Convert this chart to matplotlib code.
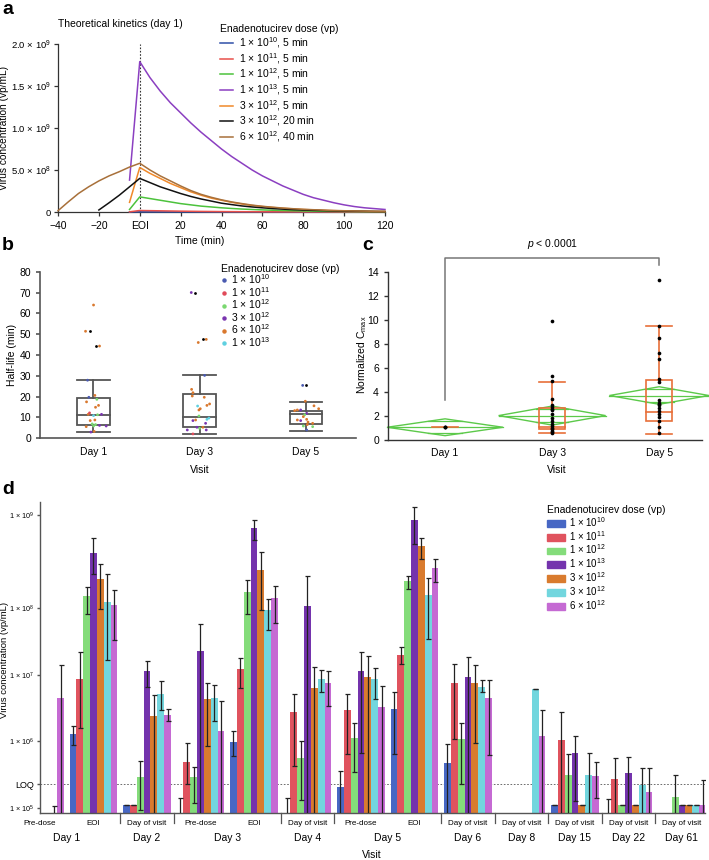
import numpy as np
import matplotlib
matplotlib.use('Agg')
import matplotlib.pyplot as plt
from matplotlib.lines import Line2D
from matplotlib.patches import Patch, Polygon, Rectangle
from matplotlib.ticker import NullLocator
import matplotlib.transforms as mtrans

plt.rcParams['font.family'] = ['Liberation Sans', 'DejaVu Sans']
plt.rcParams['mathtext.fontset'] = 'custom'
plt.rcParams['mathtext.rm'] = 'Liberation Sans'
plt.rcParams['mathtext.it'] = 'Liberation Sans:italic'
plt.rcParams['mathtext.bf'] = 'Liberation Sans:bold'
plt.rcParams['mathtext.default'] = 'regular'

# ---------------- Panel a data (theoretical kinetics, x1e9 vp/mL) ----------------
t_5min = [-5, 0, 5, 10, 15, 20, 25, 30, 35, 40, 45, 50, 55, 60, 65, 70, 75, 80, 85, 90, 95, 100, 105, 110, 115, 120]
t_20min = [-20, -15, -10, -5, 0, 5, 10, 15, 20, 25, 30, 35, 40, 45, 50, 55, 60, 65, 70, 75, 80, 85, 90, 95, 100, 105, 110, 115, 120]
t_40min = [-40, -35, -30, -25, -20, -15, -10, -5, 0, 5, 10, 15, 20, 25, 30, 35, 40, 45, 50, 55, 60, 65, 70, 75, 80, 85, 90, 95, 100, 105, 110, 115, 120]
a_labels = ['1 × 10$^{10}$, 5 min', '1 × 10$^{11}$, 5 min', '1 × 10$^{12}$, 5 min',
            '1 × 10$^{13}$, 5 min', '3 × 10$^{12}$, 5 min', '3 × 10$^{12}$, 20 min',
            '6 × 10$^{12}$, 40 min']
a_blue = [0.0002, 0.0018, 0.0016, 0.0014, 0.0012, 0.001, 0.00085, 0.0007, 0.0006, 0.0005, 0.00042, 0.00035, 0.0003,
          0.00025, 0.00021, 0.00018, 0.00015, 0.00012, 0.0001, 0.00008, 0.00007, 0.00006, 0.00005, 0.00004, 0.00003, 0.00003]
a_red = [0.002, 0.018, 0.016, 0.014, 0.012, 0.010, 0.0085, 0.007, 0.006, 0.005, 0.0042, 0.0035, 0.003, 0.0025,
         0.0021, 0.0018, 0.0015, 0.0012, 0.001, 0.0008, 0.0007, 0.0006, 0.0005, 0.0004, 0.00035, 0.0003]
a_green = [0.03, 0.18, 0.16, 0.14, 0.12, 0.10, 0.085, 0.07, 0.06, 0.05, 0.042, 0.035, 0.03, 0.025, 0.021, 0.018,
           0.015, 0.012, 0.010, 0.008, 0.007, 0.006, 0.005, 0.004, 0.0035, 0.003]
a_purple = [0.38, 1.79, 1.60, 1.44, 1.30, 1.18, 1.06, 0.95, 0.85, 0.75, 0.66, 0.58, 0.50, 0.43, 0.37, 0.31, 0.26,
            0.21, 0.17, 0.14, 0.11, 0.085, 0.065, 0.05, 0.04, 0.03]
a_orange = [0.115, 0.53, 0.46, 0.40, 0.34, 0.29, 0.24, 0.20, 0.165, 0.14, 0.115, 0.095, 0.078, 0.065, 0.054, 0.045,
            0.037, 0.03, 0.025, 0.02, 0.016, 0.013, 0.011, 0.009, 0.007, 0.006]
a_black = [0.024, 0.11, 0.20, 0.30, 0.40, 0.35, 0.30, 0.26, 0.22, 0.185, 0.155, 0.13, 0.105, 0.088, 0.072, 0.06,
           0.05, 0.041, 0.034, 0.028, 0.023, 0.019, 0.016, 0.013, 0.011, 0.009, 0.008, 0.006, 0.005]
a_brown = [0.015, 0.12, 0.22, 0.30, 0.37, 0.43, 0.48, 0.535, 0.58, 0.50, 0.43, 0.37, 0.31, 0.255, 0.21, 0.175,
           0.145, 0.12, 0.10, 0.082, 0.068, 0.057, 0.047, 0.039, 0.032, 0.027, 0.022, 0.018, 0.015, 0.012, 0.01,
           0.008, 0.007]

# ---------------- Panel b data (half-life, min) ----------------
b_dose_labels = ['1 × 10$^{10}$', '1 × 10$^{11}$', '1 × 10$^{12}$', '3 × 10$^{12}$', '6 × 10$^{12}$', '1 × 10$^{13}$']
b_visits = ['Day 1', 'Day 3', 'Day 5']
b_whislo = [2.9, 1.9, 3.7]
b_q1 = [6.4, 5.4, 6.9]
b_med = [11.0, 10.1, 11.5]
b_q3 = [19.2, 21.1, 13.1]
b_whishi = [28.0, 30.4, 17.3]
b_day1_val = [64, 51.4, 44.3, 27.9, 19.7, 20.6, 18.7, 14.9, 15.8, 11.5, 10.9, 11.3, 11.5, 8.5, 8.8, 5.6, 6.9, 5.9, 6.6, 6.2, 5.9, 3.0, 3.3, 12.2, 17.5]
b_day1_dose = [4, 4, 4, 0, 0, 4, 2, 4, 4, 4, 5, 2, 3, 4, 4, 4, 2, 2, 2, 3, 3, 3, 4, 1, 4]
b_day1_jit = [1, -23, 19, -17, -13, 5, 11, 7, 16, -15, 1, 13, 25, -9, 5, -21, -3, 1, 7, 19, 39, -7, 3, -11, -20]
b_day3_val = [70, 46.0, 47.5, 30.2, 23.5, 21.9, 20.3, 19.7, 15.5, 15.8, 14.2, 13.6, 10.7, 9.7, 9.1, 8.5, 8.8, 7.2, 4.8, 5.3, 5.3, 4.0, 2.1, 4.0, 16.5]
b_day3_dose = [3, 4, 4, 0, 4, 4, 4, 4, 5, 4, 4, 4, 2, 5, 5, 3, 4, 3, 2, 3, 4, 3, 1, 3, 4]
b_day3_jit = [-25, -4, 20, 15, -24, -20, -22, 14, -6, 22, 2, -2, -2, 28, 22, -20, -12, 18, 0, -8, 10, -37, -20, 20, 30]
b_day5_val = [25.4, 17.8, 15.6, 14.2, 13.6, 13.6, 13.3, 12.0, 11.3, 8.8, 10.4, 9.1, 8.5, 7.8, 7.2, 5.9, 6.6, 5.6, 4.0]
b_day5_dose = [0, 4, 4, 4, 4, 3, 4, 3, 2, 4, 4, 4, 3, 4, 4, 2, 4, 2, 0]
b_day5_jit = [-10, -2, 24, 38, -26, -16, -34, 2, -4, -26, -8, 2, -16, 6, 20, -8, 4, 20, 2]
b_black_day = [1, 1, 2, 2, 3]
b_black_val = [51.4, 44.3, 70, 47.5, 25.4]
b_black_jit = [-9, 9, -15, 10, 0]

# ---------------- Panel c data (normalized Cmax) ----------------
c_visits = ['Day 1', 'Day 3', 'Day 5']
c_day1 = [1.05, 1.05, 1.05]
c_day3 = [9.9, 5.3, 4.9, 3.45, 2.9, 2.75, 2.6, 2.5, 2.2, 1.8, 1.55, 1.35, 1.15, 1.0, 0.9, 0.75, 0.65, 0.55]
c_day5 = [13.3, 9.45, 8.5, 7.2, 6.7, 5.05, 4.85, 3.3, 3.1, 3.0, 2.9, 2.65, 2.4, 2.2, 1.95, 1.6, 1.1, 0.55]
c_whislo = [1.05, 0.61, 0.5]
c_q1 = [1.05, 0.89, 1.61]
c_med = [1.05, 1.12, 2.3]
c_q3 = [1.05, 2.64, 5.0]
c_whishi = [1.05, 4.83, 9.45]
c_diam_mean = [1.06, 2.03, 3.70]
c_diam_ci = [0.70, 0.79, 0.73]
c_diam_n = [1.08, 1.0, 0.93]   # relative widths
c_pvalue = '$\\it{p}$ < 0.0001'

# ---------------- Panel d data (virus concentration, vp/mL) ----------------
nan = np.nan
B = 5e4  # below axis floor
d_groups = ['Pre-dose', 'EOI', 'Day of visit', 'Pre-dose', 'EOI', 'Day of visit', 'Pre-dose', 'EOI',
            'Day of visit', 'Day of visit', 'Day of visit', 'Day of visit', 'Day of visit']
d_days = ['Day 1', 'Day 2', 'Day 3', 'Day 4', 'Day 5', 'Day 6', 'Day 8', 'Day 15', 'Day 22', 'Day 61']
d_day_span = [(0, 1), (2, 2), (3, 4), (5, 5), (6, 7), (8, 8), (9, 9), (10, 10), (11, 11), (12, 12)]
d_dose_labels = ['1 × 10$^{10}$', '1 × 10$^{11}$', '1 × 10$^{12}$', '1 × 10$^{13}$', '3 × 10$^{12}$', '3 × 10$^{12}$', '6 × 10$^{12}$']
d_mean = [
    [nan, nan, nan, nan, nan, nan, 4.5e6],
    [1.3e6, 8.5e6, 1.35e8, 3.9e8, 2.05e8, 1.16e8, 1.09e8],
    [1.1e5, 1.1e5, 2.9e5, 1.13e7, 2.4e6, 5.1e6, 2.45e6],
    [nan, 4.8e5, 2.9e5, 2.3e7, 4.3e6, 4.4e6, 1.4e6],
    [9.8e5, 1.2e7, 1.5e8, 7.3e8, 2.6e8, 9.4e7, 1.28e8],
    [nan, 2.7e6, 5.5e5, 1.06e8, 6.2e6, 8.5e6, 7.4e6],
    [2.07e5, 2.9e6, 1.1e6, 1.13e7, 9.1e6, 8.7e6, 3.3e6],
    [3.0e6, 2.0e7, 1.94e8, 8.9e8, 4.6e8, 1.4e8, 2.7e8],
    [4.7e5, 7.6e6, 1.07e6, 9.1e6, 7.4e6, 6.6e6, 4.5e6],
    [nan, nan, nan, nan, nan, 6.0e6, 1.2e6],
    [1.1e5, 1.04e6, 3.1e5, 6.6e5, 1.1e5, 3.1e5, 3.0e5],
    [nan, 2.7e5, 1.1e5, 3.3e5, 1.1e5, 2.2e5, 1.74e5],
    [nan, nan, 1.46e5, 1.1e5, 1.1e5, 1.1e5, 1.1e5],
]
d_lo = [
    [nan, nan, nan, nan, nan, B, B],
    [8.7e5, 1.6e6, 8.3e7, 2.3e8, 9.7e7, 1.66e7, 3.3e7],
    [1.1e5, 1.1e5, 9.2e4, 6.6e6, B, 2.9e6, 2.0e6],
    [B, 2.3e5, 1.16e5, B, 8.4e5, 2.0e6, B],
    [6.0e5, 6.2e6, 8.2e7, 5.4e8, 9.4e7, 4.7e7, 6.0e7],
    [B, 4.2e5, 1.3e5, B, B, 5.5e6, 3.4e6],
    [B, 6.4e5, 3.4e5, 6.6e5, B, 4.3e6, B],
    [6.4e5, 1.45e7, 1.6e8, 4.9e8, 3.4e8, 3.4e7, 1.9e8],
    [B, 1.07e6, 2.3e5, B, 9.5e5, 5.5e6, 6.2e5],
    [nan, nan, nan, nan, nan, 6.0e6, B],
    [1.1e5, B, B, 1.27e5, 1.1e5, B, 1.4e5],
    [B, B, 1.1e5, B, 1.1e5, B, B],
    [nan, nan, B, 1.1e5, 1.1e5, 1.1e5, B],
]
d_hi = [
    [nan, nan, nan, nan, nan, 1.06e5, 1.4e7],
    [1.7e6, 2.2e7, 1.7e8, 5.6e8, 3.0e8, 2.3e8, 1.57e8],
    [1.1e5, 1.1e5, 5.0e5, 1.6e7, 4.9e6, 8.1e6, 3.0e6],
    [1.4e5, 9.5e5, 4.1e5, 5.8e7, 7.4e6, 7.1e6, 4.0e6],
    [1.4e6, 1.8e7, 2.0e8, 8.9e8, 4.0e8, 1.26e8, 1.75e8],
    [1.4e5, 5.1e6, 1.0e6, 2.24e8, 1.3e7, 1.17e7, 1.13e7],
    [3.6e5, 5.1e6, 1.85e6, 2.2e7, 1.9e7, 1.27e7, 6.8e6],
    [5.4e6, 2.6e7, 2.2e8, 1.23e9, 5.6e8, 2.1e8, 3.4e8],
    [9.0e5, 1.44e7, 1.9e6, 1.86e7, 1.4e7, 8.3e6, 8.3e6],
    [nan, nan, nan, nan, nan, 6.0e6, 2.9e6],
    [1.1e5, 2.7e6, 6.4e5, 1.2e6, 1.1e5, 6.6e5, 4.8e5],
    [1.35e5, 5.5e5, 1.1e5, 5.7e5, 1.1e5, 4.0e5, 3.9e5],
    [nan, nan, 3.1e5, 1.1e5, 1.1e5, 1.1e5, 2.6e5],
]
d_loq = 2.25e5

# ---------------- styling ----------------
a_colors = ['#2f4fa8', '#e8504a', '#4cc23c', '#8b3fc1', '#f0892a', '#111111', '#a8703a']
b_colors = ['#4a5ab0', '#e04a5a', '#7ad870', '#7a35b0', '#d9782e', '#5fd0e0']
d_colors = ['#4767c4', '#e0535e', '#84dc7a', '#7433ad', '#d97b2e', '#72d6de', '#c56ad3']
spine_col = '#333333'

W, H = 709, 860
fig = plt.figure(figsize=(W / 100, H / 100), dpi=100)


def ax_px(l, t, r, b):
    return fig.add_axes([l / W, 1 - b / H, (r - l) / W, (b - t) / H])


def fx(px):
    return px / W


def fy(py):
    return 1 - py / H


def style_axes(ax, lw=0.9, col=spine_col):
    for s in ['top', 'right']:
        ax.spines[s].set_visible(False)
    for s in ['left', 'bottom']:
        ax.spines[s].set_color(col)
        ax.spines[s].set_linewidth(lw)
    ax.tick_params(colors=col, width=lw, length=3, labelcolor='black')


for letter, x, y in [('a', 2, 10), ('b', 2, 245), ('c', 362, 245), ('d', 2, 489)]:
    fig.text(fx(x), fy(y), letter, fontsize=14, fontweight='bold', va='center', ha='left')

# ================= Panel a =================
axA = ax_px(58, 44, 385, 212)
style_axes(axA)
a_series = [(t_5min, a_blue), (t_5min, a_red), (t_5min, a_green), (t_5min, a_purple),
            (t_5min, a_orange), (t_20min, a_black), (t_40min, a_brown)]
handles = []
for (tt, vv), col, lab in zip(a_series, a_colors, a_labels):
    ln, = axA.plot(tt, np.array(vv) * 1e9, color=col, lw=1.1, label=lab, clip_on=False, zorder=3)
    handles.append(ln)
axA.axvline(0, ls=(0, (1.5, 1.5)), color='#333333', lw=0.8, zorder=2)
axA.set_xlim(-40, 120)
axA.set_ylim(0, 2e9)
axA.set_xticks([-40, -20, 0, 20, 40, 60, 80, 100, 120])
axA.set_xticklabels(['\u221240', '\u221220', 'EOI', '20', '40', '60', '80', '100', '120'], fontsize=7.5)
axA.set_yticks([0, 5e8, 1e9, 1.5e9, 2e9])
axA.set_yticklabels(['0', '5.0 × 10$^{8}$', '1.0 × 10$^{9}$', '1.5 × 10$^{9}$', '2.0 × 10$^{9}$'], fontsize=6.8)
axA.tick_params(axis='y', pad=2)
fig.text(fx(58), fy(24), 'Theoretical kinetics (day 1)', fontsize=7.5, va='center', ha='left')
fig.text(fx(4.5), fy(128), 'Virus concentration (vp/mL)', fontsize=7.3, rotation=90, va='center', ha='center')
fig.text(fx(200), fy(241), 'Time (min)', fontsize=7.5, va='center', ha='center')
legA = axA.legend(handles=handles, loc='upper left', bbox_to_anchor=(fx(220), fy(24.5)),
                  bbox_transform=fig.transFigure, frameon=False, fontsize=7.5,
                  title='Enadenotucirev dose (vp)', title_fontsize=7.5, handlelength=1.2,
                  handletextpad=0.6, labelspacing=0.08, borderpad=0, borderaxespad=0)
legA._legend_box.align = 'left'

# ================= Panel b =================
axB = ax_px(40, 271.7, 356, 438.3)
style_axes(axB, lw=1.2, col='#555555')
axB.set_xlim(0.5, 3.47)
axB.set_ylim(0, 80)
axB.set_yticks(np.arange(0, 81, 10))
axB.tick_params(axis='y', labelsize=7.5)
axB.set_xticks([1, 2, 3])
axB.set_xticklabels(b_visits, fontsize=7.5)
axB.tick_params(axis='x', length=0, pad=6)
box_hw = 0.155
box_col = '#555555'
for i in range(3):
    xc = i + 1
    axB.add_patch(Rectangle((xc - box_hw, b_q1[i]), 2 * box_hw, b_q3[i] - b_q1[i], fill=False,
                            ec=box_col, lw=1.3, zorder=2))
    axB.plot([xc - box_hw, xc + box_hw], [b_med[i]] * 2, color=box_col, lw=1.3, zorder=2)
    axB.plot([xc, xc], [b_q3[i], b_whishi[i]], color=box_col, lw=1.3, zorder=2)
    axB.plot([xc, xc], [b_q1[i], b_whislo[i]], color=box_col, lw=1.3, zorder=2)
    axB.plot([xc - box_hw, xc + box_hw], [b_whishi[i]] * 2, color=box_col, lw=1.3, zorder=2)
    axB.plot([xc - box_hw, xc + box_hw], [b_whislo[i]] * 2, color=box_col, lw=1.3, zorder=2)
jit_scale = 319.5
for xc, vals, doses, jits in [(1, b_day1_val, b_day1_dose, b_day1_jit),
                              (2, b_day3_val, b_day3_dose, b_day3_jit),
                              (3, b_day5_val, b_day5_dose, b_day5_jit)]:
    xs = xc + np.array(jits) / jit_scale
    cols = [b_colors[d] for d in doses]
    axB.scatter(xs, vals, s=4, c=cols, zorder=4, linewidths=0)
axB.scatter(np.array(b_black_day) + np.array(b_black_jit) / jit_scale, b_black_val, s=4, c='black',
            zorder=4, linewidths=0)
fig.text(fx(12), fy(355), 'Half-life (min)', fontsize=7.5, rotation=90, va='center', ha='center')
fig.text(fx(200), fy(470), 'Visit', fontsize=7.5, va='center', ha='center')
hB = [Line2D([], [], marker='o', ls='', color=c, markersize=2.2, label=l) for c, l in zip(b_colors, b_dose_labels)]
legB = axB.legend(handles=hB, loc='upper left', bbox_to_anchor=(fx(221), fy(263.5)),
                  bbox_transform=fig.transFigure, frameon=False, fontsize=7.5,
                  title='Enadenotucirev dose (vp)', title_fontsize=7.5, handlelength=0.5,
                  handletextpad=0.5, labelspacing=-0.12, borderpad=0, borderaxespad=0)
legB._legend_box.align = 'left'

# ================= Panel c =================
axC = ax_px(388, 271.7, 702, 440)
style_axes(axC, lw=1.0, col='#333333')
axC.set_xlim(0.467, 3.40)
axC.set_ylim(0, 14)
axC.set_yticks(np.arange(0, 15, 2))
axC.tick_params(axis='y', labelsize=7.5)
axC.set_xticks([1, 2, 3])
axC.set_xticklabels(c_visits, fontsize=7.5)
axC.tick_params(axis='x', length=0, pad=6)
green = '#5cc94a'
orange_c = '#e8703a'
for i in range(3):
    xc = i + 1
    hw = 0.5 * c_diam_n[i]
    m, ci = c_diam_mean[i], c_diam_ci[i]
    diam = Polygon([[xc - hw, m], [xc, m + ci], [xc + hw, m], [xc, m - ci]], closed=True, fill=False,
                   ec=green, lw=1.0, zorder=2, clip_on=False)
    axC.add_patch(diam)
    axC.plot([xc - hw, xc + hw], [m, m], color=green, lw=0.9, zorder=2, clip_on=False)
    ov = ci / np.sqrt(2)
    ohw = hw * (1 - ov / ci)
    for s in (1, -1):
        axC.plot([xc - ohw, xc + ohw], [m + s * ov] * 2, color=green, lw=0.9, zorder=2)
c_hw = 0.122
for i in range(3):
    xc = i + 1
    if c_q3[i] > c_q1[i]:
        axC.add_patch(Rectangle((xc - c_hw, c_q1[i]), 2 * c_hw, c_q3[i] - c_q1[i], fill=False,
                                ec=orange_c, lw=1.2, zorder=3))
        axC.plot([xc, xc], [c_q3[i], c_whishi[i]], color=orange_c, lw=1.2, zorder=3)
        axC.plot([xc, xc], [c_q1[i], c_whislo[i]], color=orange_c, lw=1.2, zorder=3)
        axC.plot([xc - c_hw, xc + c_hw], [c_whishi[i]] * 2, color=orange_c, lw=1.2, zorder=3)
        axC.plot([xc - c_hw, xc + c_hw], [c_whislo[i]] * 2, color=orange_c, lw=1.2, zorder=3)
    axC.plot([xc - c_hw, xc + c_hw], [c_med[i]] * 2, color=orange_c, lw=1.2, zorder=3)
for xc, vals in [(1, c_day1), (2, c_day3), (3, c_day5)]:
    axC.scatter([xc] * len(vals), vals, s=7, c='black', zorder=5, linewidths=0)
br_col = '#777777'
axC.plot([1, 1, 3, 3], [3.33, 15.17, 15.17, 14.58], color=br_col, lw=1.1, clip_on=False, zorder=1)
axC.text(2, 16.3, c_pvalue, fontsize=7.5, ha='center', va='center')
fig.text(fx(362), fy(355), 'Normalized C$_{max}$', fontsize=7.5, rotation=90, va='center', ha='center')
fig.text(fx(557), fy(470), 'Visit', fontsize=7.5, va='center', ha='center')

# ================= Panel d =================
axD = ax_px(40, 502, 705, 813)
style_axes(axD, lw=1.0, col='#555555')


def fwd(v):
    v = np.asarray(v, dtype=float)
    with np.errstate(divide='ignore', invalid='ignore'):
        L = np.log10(np.where(v > 0, v, 1e-300))
    return np.where(L <= 8, L, 8 + (L - 8) * 1.4)


def inv(y):
    y = np.asarray(y, dtype=float)
    return np.where(y <= 8, 10 ** y, 10 ** (8 + (y - 8) / 1.4))


axD.set_yscale('function', functions=(fwd, inv))
ybot, ytop = 10 ** 4.92, 10 ** 9.14
axD.set_ylim(ybot, ytop)
axD.set_xlim(0, 12.43)
bw = 0.128
for g in range(len(d_groups)):
    for k in range(7):
        x = g + (k - 3) * bw
        m = d_mean[g][k]
        if np.isfinite(m):
            axD.bar(x, m - ybot, bottom=ybot, width=bw, color=d_colors[k], lw=0, zorder=2)
        lo, hi = d_lo[g][k], d_hi[g][k]
        if np.isfinite(hi):
            anchor = m if np.isfinite(m) else B
            axD.errorbar([x], [anchor], yerr=[[anchor - lo], [hi - anchor]], fmt='none',
                         ecolor='#222222', elinewidth=0.9, capsize=1.8, capthick=0.9, zorder=3)
axD.axhline(d_loq, ls=(0, (2, 2)), color='#555555', lw=0.6, zorder=1)
axD.set_yticks([1e5, d_loq, 1e6, 1e7, 1e8, 1e9])
axD.set_yticklabels(['1 × 10$^{5}$', 'LOQ', '1 × 10$^{6}$', '1 × 10$^{7}$', '1 × 10$^{8}$', '1 × 10$^{9}$'])
axD.yaxis.set_minor_locator(NullLocator())
axD.tick_params(axis='y', labelsize=5.2, length=2.5, pad=2)
for lab in axD.get_yticklabels():
    if lab.get_text() == 'LOQ':
        lab.set_fontsize(6.5)
axD.set_xticks([])
trD = mtrans.blended_transform_factory(axD.transData, axD.transAxes)
for g, name in enumerate(d_groups):
    axD.text(g, -0.033, name, transform=trD, fontsize=5.8, ha='center', va='center', clip_on=False)
for name, (g0, g1) in zip(d_days, d_day_span):
    axD.text((g0 + g1) / 2, -0.08, name, transform=trD, fontsize=7.5, ha='center', va='center', clip_on=False)
for (g0, g1) in d_day_span[:-1]:
    sx = g1 + 0.5
    axD.plot([sx, sx], [0, -0.032], transform=trD, color='#555555', lw=0.9, clip_on=False)
fig.text(fx(4.5), fy(660), 'Virus concentration (vp/mL)', fontsize=6.8, rotation=90, va='center', ha='center')
fig.text(fx(372), fy(855), 'Visit', fontsize=7.5, va='center', ha='center')
hD = [Patch(color=c, label=l) for c, l in zip(d_colors, d_dose_labels)]
legD = axD.legend(handles=hD, loc='upper left', bbox_to_anchor=(fx(547), fy(505)),
                  bbox_transform=fig.transFigure, frameon=False, fontsize=7,
                  title='Enadenotucirev dose (vp)', title_fontsize=7.5, handlelength=1.8,
                  handleheight=0.7, handletextpad=0.5, labelspacing=0.0, borderpad=0, borderaxespad=0)
legD._legend_box.align = 'left'

fig.savefig('out.png', dpi=100)
